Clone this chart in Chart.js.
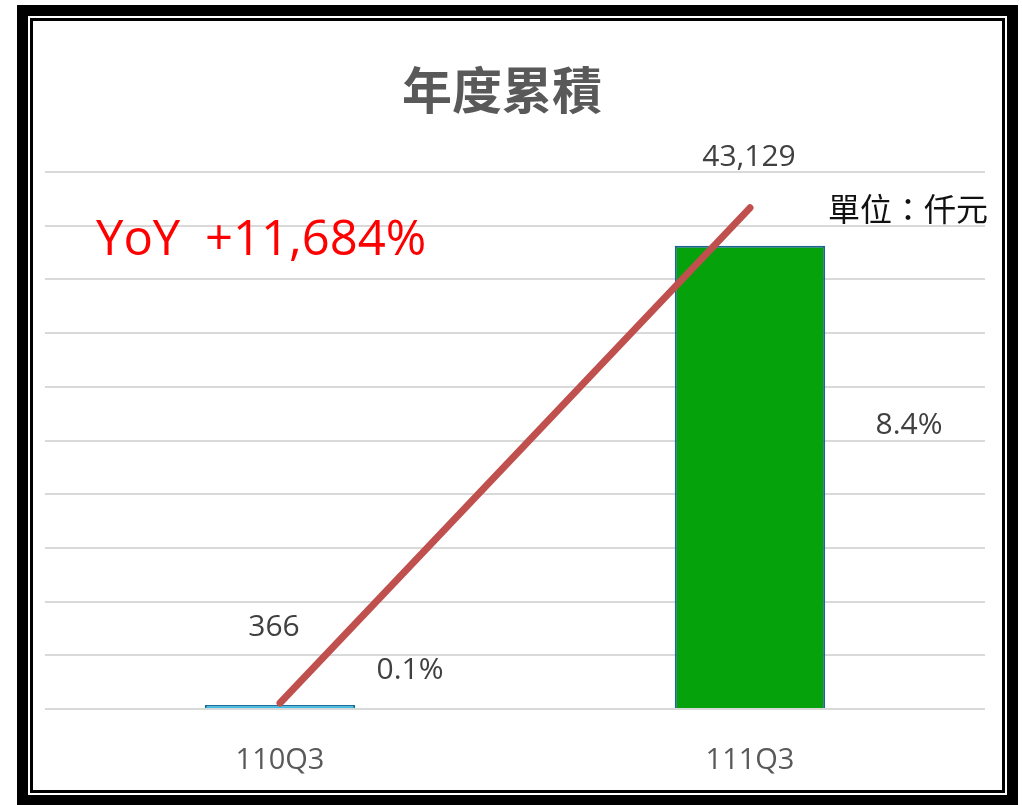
<!DOCTYPE html>
<html lang="zh-Hant">
<head>
  <meta charset="UTF-8" />
  <title>年度累積</title>
  <script src="https://cdn.jsdelivr.net/npm/chart.js"></script>
  <style>
    body { margin: 0; background: #fff; width: 1022px; height: 805px; overflow: hidden; position: relative; }
    .frame { position: absolute; left: 17px; top: 5px; width: 979px; height: 779px; border: 11px solid #000; }
    .frame-inner { position: absolute; left: 2px; top: 2px; right: 2px; bottom: 2px; border: 3px solid #000; }
    #wrap { position: absolute; left: 0; top: 0; width: 1022px; height: 805px; }
  </style>
</head>
<body>
  <div class="frame"><div class="frame-inner"></div></div>
  <div id="wrap"><canvas id="chart"></canvas></div>

  <script>
    const categories = ["110Q3", "111Q3"];
    const revenue = [366, 43129];        // 仟元
    const share = [0.1, 8.4];            // %
    const yTicksMax = 50000;
    const yTicksStep = 5000;

    const cjk = '"Noto Sans CJK TC", "Open Sans", sans-serif';
    const num = '"Open Sans", "Noto Sans CJK TC", sans-serif';

    const labelPlugin = {
      id: "labels",
      afterDatasetsDraw(chart) {
        const ctx = chart.ctx;
        const bars = chart.getDatasetMeta(0).data;
        const pts = chart.getDatasetMeta(1).data;
        ctx.save();
        ctx.textAlign = "center";
        ctx.textBaseline = "middle";

        // title
        ctx.fillStyle = "#595959";
        ctx.font = "bold 50px " + cjk;
        ctx.fillText("年度累積", 502, 90);

        // value labels
        ctx.fillStyle = "#404040";
        ctx.font = "30px " + num;
        ctx.fillText(revenue[0].toLocaleString("en-US"), bars[0].x - 6, 627);
        ctx.fillText(revenue[1].toLocaleString("en-US"), bars[1].x - 1, 157);

        // share labels
        ctx.fillText(share[0].toFixed(1) + "%", pts[0].x + 130, 670);
        ctx.fillText(share[1].toFixed(1) + "%", pts[1].x + 159, 425);

        // unit
        ctx.fillStyle = "#111";
        ctx.font = "32px " + cjk;
        ctx.fillText("單位：仟元", 908, 209);

        // yoy
        const yoy = Math.round((revenue[1] - revenue[0]) / revenue[0] * 100);
        ctx.fillStyle = "#ff0000";
        ctx.font = "49px " + num;
        ctx.textAlign = "left";
        ctx.textBaseline = "alphabetic";
        ctx.fillText("YoY", 96, 255);
        ctx.fillText("+" + yoy.toLocaleString("en-US") + "%", 205, 255);
        ctx.restore();
      }
    };

    new Chart(document.getElementById("chart"), {
      data: {
        labels: categories,
        datasets: [
          {
            type: "bar",
            data: revenue,
            backgroundColor: ["#3bbfe8", "#06a20c"],
            borderColor: ["#1a6f9a", "#1d6590"],
            borderWidth: 2,
            categoryPercentage: 1,
            barPercentage: 0.32,
            yAxisID: "y",
            order: 2
          },
          {
            type: "line",
            data: share,
            borderColor: "#c0504d",
            borderWidth: 7,
            borderCapStyle: "round",
            pointRadius: 0,
            yAxisID: "y1",
            order: 1
          }
        ]
      },
      options: {
        responsive: true,
        maintainAspectRatio: false,
        animation: false,
        layout: { padding: { left: 45, right: 37, top: 172, bottom: 0 } },
        plugins: { legend: { display: false }, tooltip: { enabled: false }, title: { display: false } },
        scales: {
          x: {
            grid: { display: false },
            border: { display: false },
            ticks: { color: "#595959", font: { size: 29, family: num }, padding: 26 },
            afterFit(s) { s.height = 96; }
          },
          y: {
            min: 0,
            max: yTicksMax,
            ticks: { display: false, stepSize: yTicksStep },
            grid: { color: "#d9d9d9", lineWidth: 2, drawTicks: false },
            border: { display: false },
            afterFit(s) { s.width = 0; }
          },
          y1: { display: false, min: 0, max: 9 }
        }
      },
      plugins: [labelPlugin]
    });
  </script>
</body>
</html>
